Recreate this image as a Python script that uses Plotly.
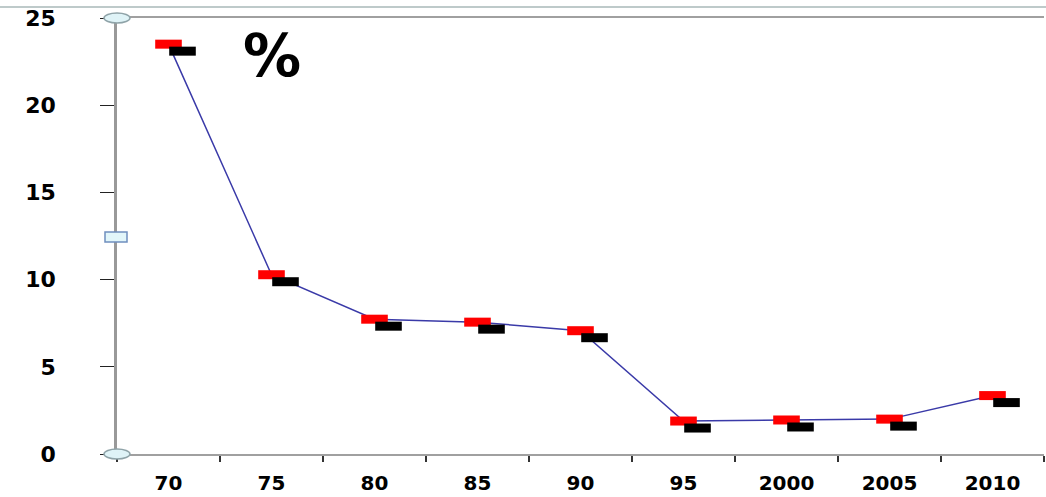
import plotly.graph_objects as go

years = ["70", "75", "80", "85", "90", "95", "2000", "2005", "2010"]
values = [23.5, 10.28, 7.73, 7.56, 7.07, 1.89, 1.95, 2.0, 3.35]
y_ticks = [0, 5, 10, 15, 20, 25]

W, H = 1046, 497
ml, mr, mt, mb = 117, 2, 18, 43
pw = W - ml - mr
ph = H - mt - mb
cat_px = pw / len(years)
shadow_dx, shadow_dy = 14, 7
y_per_px = 25 / ph

font_fam = "DejaVu Sans"

fig = go.Figure()
fig.add_trace(go.Scatter(x=years, y=values, mode="lines",
                         line=dict(color="#3a3aa8", width=1.5),
                         hoverinfo="skip", showlegend=False))
fig.add_trace(go.Scatter(x=years, y=values, mode="markers", xaxis="x2", yaxis="y2",
                         marker=dict(symbol="line-ew", size=19,
                                     line=dict(color="#000000", width=9)),
                         showlegend=False))
fig.add_trace(go.Scatter(x=years, y=values, mode="markers",
                         marker=dict(symbol="line-ew", size=19,
                                     line=dict(color="#ff0000", width=9)),
                         showlegend=False))

n = len(years)
off = shadow_dx / cat_px
fig.update_layout(
    width=W, height=H,
    margin=dict(l=ml, r=mr, t=mt, b=mb, autoexpand=False),
    paper_bgcolor="white", plot_bgcolor="white",
    xaxis=dict(type="category", range=[-0.5, n - 0.5], showgrid=False,
               tickson="boundaries", ticks="outside", ticklen=6, tickwidth=2,
               tickcolor="#333333", showline=True, linecolor="#a0a0a0",
               linewidth=2, mirror=True, ticklabelstandoff=10, automargin=False,
               tickfont=dict(family=font_fam, size=20, color="#000000",
                             weight="bold"),
               zeroline=False),
    yaxis=dict(range=[0, 25], tickvals=y_ticks, showgrid=False,
               ticks="outside", ticklen=14, tickwidth=1, tickcolor="#222222",
               showline=True, linecolor="#999999", linewidth=2.5,
               ticklabelstandoff=40, zeroline=False, automargin=False,
               tickfont=dict(family=font_fam, size=22, color="#000000",
                             weight="bold")),
    xaxis2=dict(type="category", overlaying="x", range=[-0.5 - off, n - 0.5 - off],
                visible=False),
    yaxis2=dict(overlaying="y", range=[shadow_dy * y_per_px, 25 + shadow_dy * y_per_px],
                visible=False),
    annotations=[dict(text="<b>%</b>", xref="paper", yref="paper",
                      x=(272 - ml) / pw, y=1 - (56 - mt) / ph,
                      xanchor="center", yanchor="middle", showarrow=False,
                      font=dict(family=font_fam, size=58, color="#000000"))],
    shapes=[
        dict(type="line", xref="paper", yref="paper", x0=-ml / pw, x1=1 + mr / pw,
             y0=1 + 11 / ph, y1=1 + 11 / ph, line=dict(color="#a9b8b8", width=1.5)),
        dict(type="circle", xref="paper", yref="paper", xsizemode="pixel",
             ysizemode="pixel", xanchor=0, yanchor=1, x0=-13, x1=13, y0=-5, y1=5,
             fillcolor="#dff3f7", line=dict(color="#8fa3a8", width=1.5)),
        dict(type="circle", xref="paper", yref="paper", xsizemode="pixel",
             ysizemode="pixel", xanchor=0, yanchor=0, x0=-13, x1=13, y0=-5, y1=5,
             fillcolor="#dff3f7", line=dict(color="#8fa3a8", width=1.5)),
        dict(type="rect", xref="paper", yref="paper", xsizemode="pixel",
             ysizemode="pixel", xanchor=0, yanchor=0.5, x0=-12, x1=10, y0=-6, y1=4,
             fillcolor="#e2f6fa", line=dict(color="#6f8fbf", width=1.5)),
    ],
)

fig.write_html("out.html")
